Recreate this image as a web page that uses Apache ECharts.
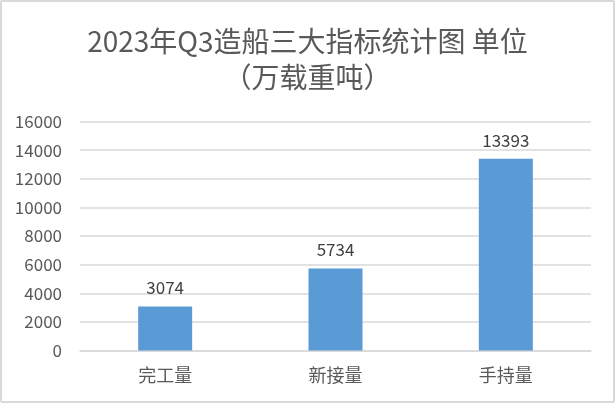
<!DOCTYPE html>
<html>
<head>
<meta charset="utf-8">
<script src="https://cdn.jsdelivr.net/npm/echarts@6/dist/echarts.min.js"></script>
<style>
html,body{margin:0;padding:0;background:#fff;}
#wrap{position:absolute;left:0;top:0;width:611px;height:399px;border:2px solid #d9d9d9;border-radius:2px;background:#fff;}
#chart{position:absolute;left:-2px;top:-2px;width:615px;height:403px;}
</style>
</head>
<body>
<div id="wrap"><div id="chart"></div></div>
<script>
var titleText = '2023年Q3造船三大指标统计图 单位\n（万载重吨）';
var categories = ['完工量', '新接量', '手持量'];
var values = [3074, 5734, 13393];
var yTicks = [0, 2000, 4000, 6000, 8000, 10000, 12000, 14000, 16000];

var chart = echarts.init(document.getElementById('chart'));
var font = '"Noto Sans CJK SC", "Microsoft YaHei", sans-serif';
chart.setOption({
  animation: false,
  title: {
    text: titleText,
    left: 'center',
    top: 18,
    textStyle: {color: '#595959', fontSize: 28, fontWeight: 'normal', fontFamily: font, lineHeight: 36}
  },
  grid: {left: 80, right: 24, top: 121.5, bottom: 52.5, containLabel: false},
  xAxis: {
    type: 'category',
    data: categories,
    axisLine: {show: true, lineStyle: {color: '#d9d9d9', width: 1.5}},
    axisTick: {show: false},
    axisLabel: {color: '#595959', fontSize: 18, fontFamily: font, margin: 16}
  },
  yAxis: {
    type: 'value',
    min: yTicks[0],
    max: yTicks[yTicks.length - 1],
    interval: yTicks[1] - yTicks[0],
    axisLine: {show: false},
    axisTick: {show: false},
    splitLine: {lineStyle: {color: '#d9d9d9', width: 1.5}},
    axisLabel: {color: '#595959', fontSize: 17, fontFamily: font, margin: 18,
      formatter: function (v) { return String(v); }}
  },
  series: [{
    type: 'bar',
    data: values,
    barWidth: 54,
    itemStyle: {color: '#5b9bd5'},
    label: {show: true, position: 'top', distance: 10, color: '#404040', fontSize: 17, fontFamily: font}
  }]
});
</script>
</body>
</html>
